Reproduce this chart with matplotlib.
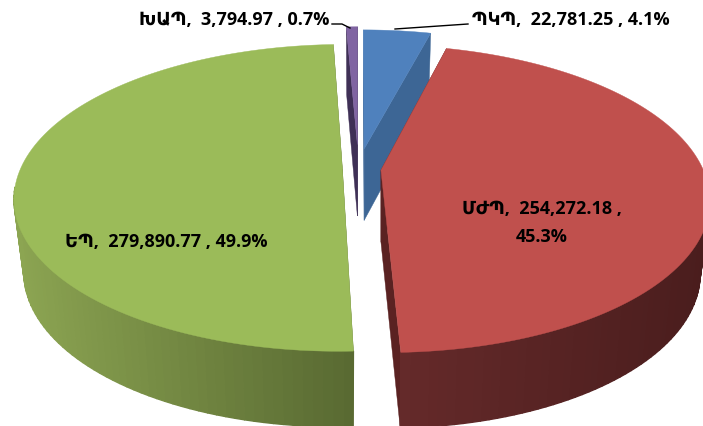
"""Exploded 3D-look pie chart, drawn by hand with polygons (matplotlib has no 3D pie)."""

import matplotlib
matplotlib.use("Agg")
import matplotlib.pyplot as plt
from matplotlib.collections import PolyCollection
from matplotlib.colors import to_rgb
import numpy as np

# ── Data ──────────────────────────────────────────────────────────────────────
names = ["ՊԿՊ", "ՄԺՊ", "ԵՊ", "ԽԱՊ"]
values = [22781.25, 254272.18, 279890.77, 3794.97]
percents = [4.1, 45.3, 49.9, 0.7]

# ── Style ─────────────────────────────────────────────────────────────────────
top_colors = ["#4f81bd", "#c0504d", "#9bbb59", "#8064a2"]
wall_light = ["#3d6695", "#652a2a", "#8ca552", "#3f3056"]
wall_dark = ["#3d6695", "#4a1d1d", "#596a32", "#3f3056"]
side_colors = ["#3d6695", "#5a2222", "#596a32", "#3f3056"]
explode = [0.14, 0.07, 0.05, 0.17]
draw_order = [0, 3, 2, 1]

CX, CY = 358.5, 170.0      # pie centre in picture pixels
RX, RY = 322.0, 148.0      # radii before perspective
PERSP = 0.186              # back of the pie shrinks, front grows
WALL = 72.0                # height of the side wall
SHRINK = 0.97              # lower rim is a little narrower

plt.rcParams["font.family"] = ["Open Sans", "DejaVu Sans"]
plt.rcParams["font.weight"] = "bold"
plt.rcParams["font.size"] = 13


def project(u, v):
    s = 1.0 / (1.0 + PERSP * v)
    return CX + RX * u * s, CY - RY * v * s


def wedge_outline(start, end, offset):
    ang = np.radians(np.linspace(start, end, 121))
    u = offset * np.sin(np.radians((start + end) / 2)) + np.sin(ang)
    v = offset * np.cos(np.radians((start + end) / 2)) + np.cos(ang)
    return u, v


def lower(x, y, v, apex_x):
    return apex_x + (x - apex_x) * SHRINK, y + WALL * (1.0 - 0.05 * v)


fig = plt.figure(figsize=(7.03, 4.27), dpi=100)
ax = fig.add_axes([0, 0, 1, 1])
ax.set_xlim(0, 703)
ax.set_ylim(427, 0)
ax.axis("off")

shares = np.array(values) / np.sum(values) * 360.0
edges = np.concatenate([[0.0], np.cumsum(shares)])

for i in draw_order:
    start, end = edges[i], edges[i + 1]
    mid = np.radians((start + end) / 2)
    apex_u, apex_v = explode[i] * np.sin(mid), explode[i] * np.cos(mid)
    ax_x, ax_y = project(apex_u, apex_v)
    ab_x, ab_y = lower(ax_x, ax_y, apex_v, ax_x)

    u, v = wedge_outline(start, end, explode[i])
    x, y = project(u, v)
    xb, yb = lower(x, y, v, ax_x)

    # radial side faces
    for k in (0, -1):
        ax.fill([ax_x, x[k], xb[k], ab_x], [ax_y, y[k], yb[k], ab_y],
                color=side_colors[i], linewidth=0.3)

    # outer wall, shaded left to right; the back part is hidden anyway
    front = [k for k in range(len(x) - 1) if v[k] < -0.12]
    quads = [[(x[k], y[k]), (x[k + 1], y[k + 1]), (xb[k + 1], yb[k + 1]), (xb[k], yb[k])]
             for k in front]
    t = (x[:-1] - x.min()) / max(x.max() - x.min(), 1.0)
    light, dark = np.array(to_rgb(wall_light[i])), np.array(to_rgb(wall_dark[i]))
    shades = [tuple(light + (dark - light) * t[k]) for k in front]
    ax.add_collection(PolyCollection(quads, facecolors=shades, edgecolors=shades, linewidths=1.0))

    # top face
    ax.fill(np.r_[ax_x, x], np.r_[ax_y, y], color=top_colors[i], linewidth=0.3)

# ── Labels ────────────────────────────────────────────────────────────────────
labels = [f"{n},  {val:,.2f} , {p}%" for n, val, p in zip(names, values, percents)]
ax.text(472, 20, labels[0], ha="left", va="center")
ax.text(542, 223, f"{names[1]},  {values[1]:,.2f} ,\n{percents[1]}%", ha="center", va="center", linespacing=1.65)
ax.text(65, 242, labels[2], ha="left", va="center")
ax.text(329, 20, labels[3], ha="right", va="center")

# leader lines
ax.plot([395, 468], [30, 25], color="black", linewidth=1.0)
ax.plot([332, 342, 350], [25, 25, 29], color="black", linewidth=1.0)

fig.savefig("out.png", dpi=100)
